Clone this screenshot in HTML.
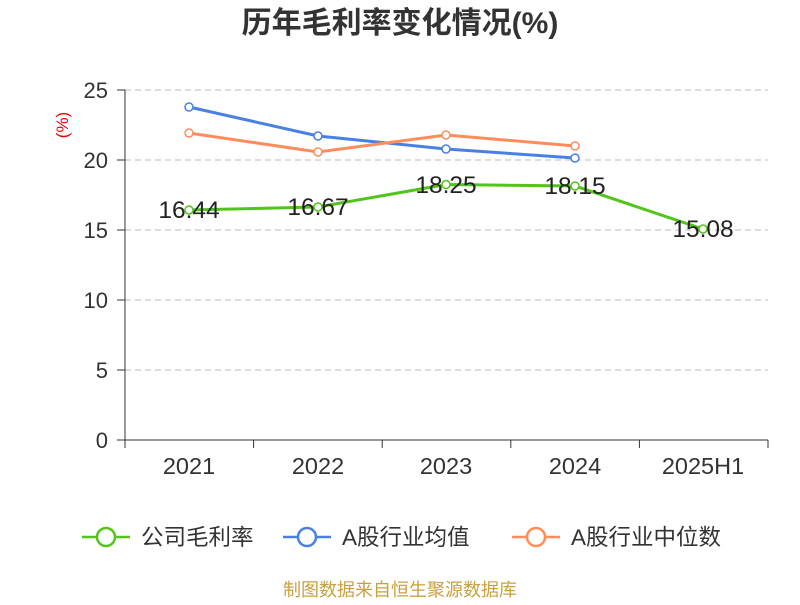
<!DOCTYPE html>
<html><head><meta charset="utf-8"><style>
body{margin:0;background:#fff;}
svg text{font-family:"Liberation Sans","Noto Sans CJK SC",sans-serif;}
</style></head><body>
<svg width="800" height="600" viewBox="0 0 800 600" xmlns="http://www.w3.org/2000/svg">
<rect width="800" height="600" fill="#fff"/>
<text x="400" y="33" text-anchor="middle" font-size="30" font-weight="bold" fill="#333">历年毛利率变化情况(%)</text>
<text transform="translate(68,125) rotate(-90)" text-anchor="middle" font-size="17" fill="#e00">(%)</text>
<g stroke="#bbb" stroke-dasharray="6,4" stroke-width="1">
<line x1="125" y1="90" x2="768" y2="90"/><line x1="125" y1="160" x2="768" y2="160"/>
<line x1="125" y1="230" x2="768" y2="230"/><line x1="125" y1="300" x2="768" y2="300"/>
<line x1="125" y1="370" x2="768" y2="370"/>
</g>
<g stroke="#333" stroke-width="1">
<line x1="125" y1="90" x2="125" y2="440"/><line x1="125" y1="440" x2="768" y2="440"/>
<line x1="117" y1="90" x2="125" y2="90"/><line x1="117" y1="160" x2="125" y2="160"/>
<line x1="117" y1="230" x2="125" y2="230"/><line x1="117" y1="300" x2="125" y2="300"/>
<line x1="117" y1="370" x2="125" y2="370"/><line x1="117" y1="440" x2="125" y2="440"/>
<line x1="125" y1="440" x2="125" y2="448"/><line x1="253.6" y1="440" x2="253.6" y2="448"/>
<line x1="382.2" y1="440" x2="382.2" y2="448"/><line x1="510.8" y1="440" x2="510.8" y2="448"/>
<line x1="639.4" y1="440" x2="639.4" y2="448"/><line x1="768" y1="440" x2="768" y2="448"/>
</g>
<g font-size="22" fill="#333" text-anchor="end">
<text x="108" y="98">25</text><text x="108" y="168">20</text><text x="108" y="238">15</text>
<text x="108" y="308">10</text><text x="108" y="378">5</text><text x="108" y="448">0</text>
</g>
<g font-size="23.5" fill="#333" text-anchor="middle">
<text x="189" y="474">2021</text><text x="318" y="474">2022</text><text x="446" y="474">2023</text>
<text x="575" y="474">2024</text><text x="703" y="474">2025H1</text>
</g>
<g fill="none" stroke-width="3">
<polyline stroke="#4a80e0" points="189,107 318,136 446,149 575,158"/>
<polyline stroke="#ff8c5a" points="189,133 318,152 446,135 575,146"/>
<polyline stroke="#52c41a" points="189,210 318,207 446,184.5 575,186 703,229"/>
</g>
<g fill="#fff" stroke-width="1.5">
<g stroke="#4a80e0"><circle cx="189" cy="107" r="4"/><circle cx="318" cy="136" r="4"/><circle cx="446" cy="149" r="4"/><circle cx="575" cy="158" r="4"/></g>
<g stroke="#ff8c5a"><circle cx="189" cy="133" r="4"/><circle cx="318" cy="152" r="4"/><circle cx="446" cy="135" r="4"/><circle cx="575" cy="146" r="4"/></g>
<g stroke="#52c41a"><circle cx="189" cy="210" r="4"/><circle cx="318" cy="207" r="4"/><circle cx="446" cy="184.5" r="4"/><circle cx="575" cy="186" r="4"/><circle cx="703" cy="229" r="4"/></g>
</g>
<g font-size="24.5" fill="#222" text-anchor="middle">
<text x="189" y="218">16.44</text><text x="318" y="215">16.67</text><text x="446" y="193">18.25</text>
<text x="575" y="194">18.15</text><text x="703" y="237">15.08</text>
</g>
<g stroke-width="2.5" fill="#fff">
<line x1="82" y1="537" x2="130" y2="537" stroke="#52c41a"/><circle cx="106" cy="537" r="9" stroke="#52c41a"/>
<line x1="283" y1="537" x2="331" y2="537" stroke="#4a80e0"/><circle cx="307" cy="537" r="9" stroke="#4a80e0"/>
<line x1="512" y1="537" x2="560" y2="537" stroke="#ff8c5a"/><circle cx="536" cy="537" r="9" stroke="#ff8c5a"/>
</g>
<g font-size="22.5" fill="#333">
<text x="141" y="545">公司毛利率</text><text x="342" y="545">A股行业均值</text><text x="571" y="545">A股行业中位数</text>
</g>
<text x="400" y="596" text-anchor="middle" font-size="18" fill="#c8a040">制图数据来自恒生聚源数据库</text>
</svg>
</body></html>
